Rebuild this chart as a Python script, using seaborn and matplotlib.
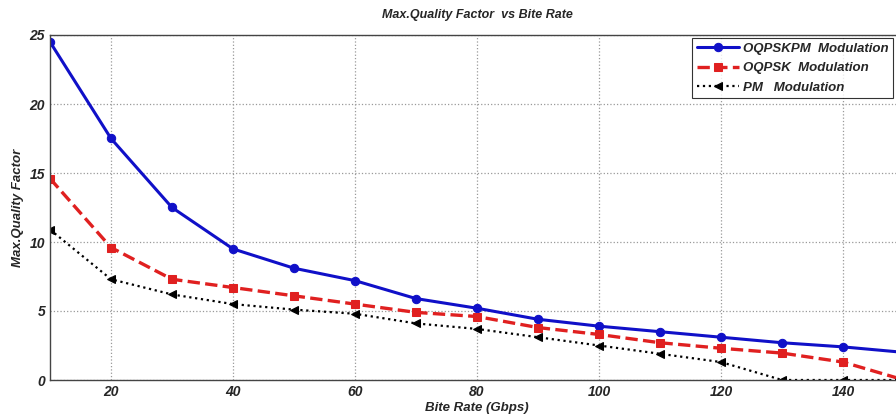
import pandas as pd
import matplotlib.pyplot as plt
import seaborn as sns

bit_rate = [10, 20, 30, 40, 50, 60, 70, 80, 90, 100, 110, 120, 130, 140, 150]
oqpskpm = [24.5, 17.5, 12.5, 9.5, 8.1, 7.2, 5.9, 5.2, 4.4, 3.9, 3.5, 3.1, 2.7, 2.4, 2.0]
oqpsk = [14.6, 9.6, 7.3, 6.7, 6.1, 5.5, 4.9, 4.6, 3.8, 3.3, 2.7, 2.3, 1.95, 1.3, 0.0]
pm = [10.9, 7.3, 6.2, 5.5, 5.1, 4.8, 4.1, 3.7, 3.1, 2.5, 1.9, 1.3, 0.0, 0.0, 0.0]

labels = ["OQPSKPM  Modulation", "OQPSK  Modulation", "PM   Modulation"]

df = pd.DataFrame({"Bit": bit_rate, labels[0]: oqpskpm, labels[1]: oqpsk, labels[2]: pm})

sns.set_style("white")
plt.rcParams["font.family"] = ["Liberation Sans", "DejaVu Sans"]

fig = plt.figure(figsize=(8.96, 4.19), dpi=100)
ax = fig.add_axes([50 / 896, 39 / 419, 854 / 896, 345 / 419])

styles = [
    dict(color="#1010c8", linestyle="-", marker="o", markersize=6, linewidth=2.2),
    dict(color="#e02020", linestyle="--", marker="s", markersize=6, linewidth=2.4),
    dict(color="black", linestyle=":", marker="<", markersize=6, linewidth=1.6),
]
for lab, st in zip(labels, styles):
    sns.lineplot(data=df, x="Bit", y=lab, ax=ax, label=lab,
                 markeredgecolor=st["color"], **st)

ax.set_xlim(10, 150)
ax.set_ylim(0, 25)
ax.set_xticks([20, 40, 60, 80, 100, 120, 140])
ax.set_yticks([0, 5, 10, 15, 20, 25])
ax.grid(True, linestyle=":", color="#999999", linewidth=0.9)
for s in ax.spines.values():
    s.set_color("#444444")
    s.set_linewidth(1.0)
ax.tick_params(direction="in", length=4, labelsize=10)
for t in ax.get_xticklabels() + ax.get_yticklabels():
    t.set_fontweight("bold")
    t.set_fontstyle("italic")

ax.set_title("Max.Quality Factor  vs Bite Rate", fontsize=9, fontweight="bold",
             fontstyle="italic", pad=12)
ax.set_xlabel("Bite Rate (Gbps)", fontsize=9.5, fontweight="bold", fontstyle="italic", labelpad=2)
ax.set_ylabel("Max.Quality Factor", fontsize=9.5, fontweight="bold", fontstyle="italic", labelpad=4)

leg = ax.legend(loc="upper right", bbox_to_anchor=(893 / 896, 1 - 38 / 419),
                bbox_transform=fig.transFigure,
                frameon=True, fancybox=False, edgecolor="black",
                prop={"weight": "bold", "style": "italic", "size": 9.5},
                handlelength=3.2, handletextpad=0.3, labelspacing=0.55,
                borderpad=0.35, borderaxespad=0)
leg.get_frame().set_linewidth(0.8)

fig.savefig("out.png", dpi=100)
plt.close(fig)
